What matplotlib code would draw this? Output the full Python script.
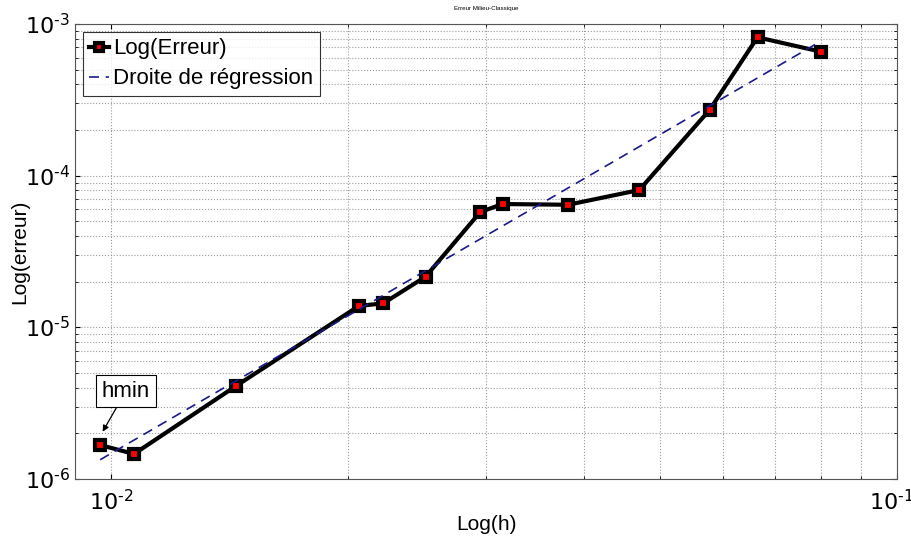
import numpy as np
import matplotlib
matplotlib.use("Agg")
import matplotlib.pyplot as plt
import matplotlib.transforms as mtransforms

plt.rcParams["font.family"] = ["Liberation Sans", "DejaVu Sans"]

# Pas h et erreur
h = [0.00969, 0.01070, 0.01444, 0.02067, 0.02221, 0.02514, 0.02950,
     0.03150, 0.03816, 0.04700, 0.05774, 0.06645, 0.07998]
erreur = [1.675e-6, 1.462e-6, 4.12e-6, 1.383e-5, 1.44e-5, 2.16e-5, 5.76e-5,
          6.50e-5, 6.43e-5, 8.04e-5, 2.71e-4, 8.17e-4, 6.57e-4]

xticks = [0.01, 0.1]
xlabels = [r"$10^{\text{-}2}$", r"$10^{\text{-}1}$"]
yticks = [1e-6, 1e-5, 1e-4, 1e-3]
ylabels = [r"$10^{\text{-}6}$", r"$10^{\text{-}5}$", r"$10^{\text{-}4}$", r"$10^{\text{-}3}$"]

# Droite de regression (fit en log-log)
p = np.polyfit(np.log10(h), np.log10(erreur), 1)
reg = 10 ** np.polyval(p, np.log10(h))

fig = plt.figure(figsize=(9.12, 5.44), dpi=100)
ax = fig.add_axes([0.0822, 0.1195, 0.9014, 0.8364])

ax.loglog(h, erreur, color="black", linewidth=3, marker="s", markersize=7,
          markerfacecolor="red", markeredgecolor="black", markeredgewidth=3,
          label="Log(Erreur)", zorder=3)
ax.loglog([h[0], h[-1]], [reg[0], reg[-1]], color="#1a1a8c", linestyle="--",
          linewidth=1.2, dashes=(6, 4), label="Droite de régression", zorder=4)

ax.set_xlim(0.009, 0.1)
ax.set_ylim(1e-6, 1e-3)

ax.grid(True, which="both", linestyle=":", color="#9a9a9a", linewidth=0.8)
ax.tick_params(which="both", direction="in", top=True, right=True, labelsize=16)
ax.tick_params(axis="x", pad=8)
for s in ax.spines.values():
    s.set_color("#555555")

ax.set_xticks(xticks, xlabels)
ax.set_yticks(yticks, ylabels)
# decale le dernier label pour qu'il reste dans la figure
lbl = ax.get_xticklabels()[-1]
lbl.set_transform(lbl.get_transform()
                  + mtransforms.ScaledTranslation(-4 / 72, 0, fig.dpi_scale_trans))

ax.set_xlabel("Log(h)", fontsize=15, labelpad=0)
ax.set_ylabel("Log(erreur)", fontsize=15, labelpad=-3)
ax.set_title("Erreur Milieu-Classique", fontsize=4.5, pad=10)

leg = ax.legend(loc="upper left", fontsize=16, frameon=True, fancybox=False,
                handlelength=0.9, handletextpad=0.15, borderpad=0.3,
                labelspacing=0.4, borderaxespad=0.35, markerscale=0.9)
leg.get_frame().set_edgecolor("black")
leg.get_frame().set_linewidth(0.8)

ax.annotate("hmin", xy=(0.00976, 2.05e-6), xytext=(0.01045, 3.8e-6),
            fontsize=16, ha="center", va="center",
            bbox=dict(boxstyle="square,pad=0.25", fc="white", ec="black", lw=0.8),
            arrowprops=dict(arrowstyle="-|>", color="black", lw=0.9,
                            mutation_scale=9, shrinkA=0, shrinkB=0))

fig.savefig("out.png", dpi=100)
